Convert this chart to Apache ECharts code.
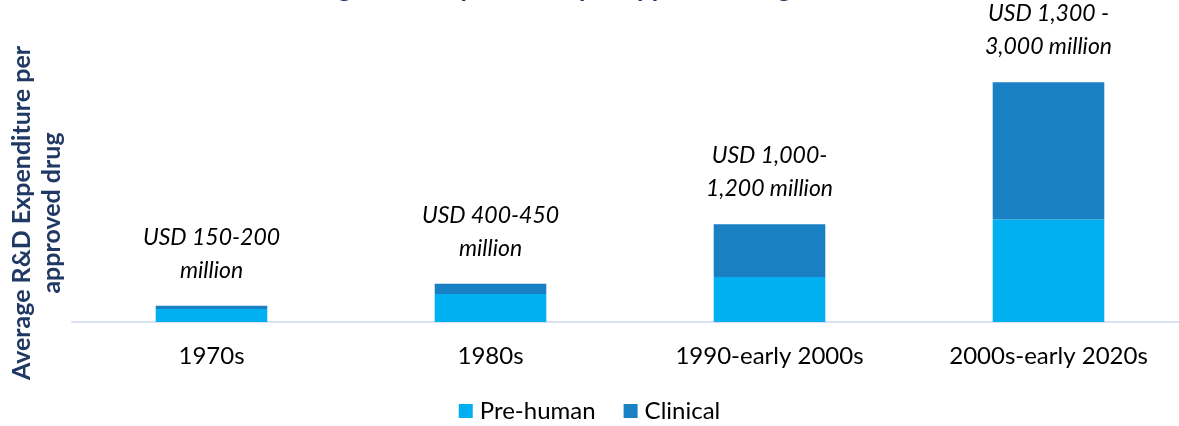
<!DOCTYPE html>
<html>
<head>
<meta charset="utf-8">
<script src="https://cdn.jsdelivr.net/npm/echarts@6/dist/echarts.min.js"></script>
<style>
  html, body { margin: 0; padding: 0; background: #fff; }
  #chart { width: 1179px; height: 426px; }
</style>
</head>
<body>
<div id="chart"></div>
<script>
// R&D spend per approved drug, USD million
const categories = ['1970s', '1980s', '1990-early 2000s', '2000s-early 2020s'];
const preHuman = [145, 310, 500, 1140];
const clinical = [35, 115, 585, 1525];
const rangeLabels = [
    'USD 150-200\nmillion',
    'USD 400-450\nmillion',
    'USD 1,000-\n1,200 million',
    'USD 1,300 -\n3,000 million'
];

const FONT = 'Lato';
let myChart = echarts.init(document.getElementById('chart'));
myChart.setOption({
    animation: false,
    title: {
        text: 'Average R&D expenditure per approved drug over time',
        left: 'center',
        top: -29,
        textStyle: { fontFamily: FONT, fontSize: 26, fontWeight: 'bold', color: '#1F3864' }
    },
    legend: {
        top: 394,
        left: 'center',
        itemWidth: 14,
        itemHeight: 14,
        itemGap: 28,
        icon: 'rect',
        textStyle: { fontFamily: FONT, fontSize: 24, color: '#000', padding: [0, 0, 0, 2] },
        data: ['Pre-human', 'Clinical']
    },
    grid: { left: 72, width: 1116, top: 25, bottom: 104, outerBoundsMode: 'none' },
    xAxis: {
        type: 'category',
        data: categories,
        axisLine: { lineStyle: { color: '#D9E1F2', width: 2 } },
        axisTick: { show: false },
        axisLabel: { margin: 22, fontFamily: FONT, fontSize: 24, color: '#000' }
    },
    yAxis: {
        type: 'value',
        min: 0,
        max: 3300,
        show: false,
        splitLine: { show: false }
    },
    graphic: [{
        type: 'text',
        x: 37,
        y: 213,
        rotation: Math.PI / 2,
        style: {
            text: 'Average R&D Expenditure per\napproved drug',
            fontFamily: FONT,
            fontSize: 25,
            fontWeight: 'bold',
            fill: '#1F3864',
            align: 'center',
            verticalAlign: 'middle',
            lineHeight: 30
        }
    }],
    series: [
        {
            name: 'Pre-human',
            type: 'bar',
            stack: 'rd',
            barWidth: '40%',
            itemStyle: { color: '#00B0F0' },
            data: preHuman
        },
        {
            name: 'Clinical',
            type: 'bar',
            stack: 'rd',
            barWidth: '40%',
            itemStyle: { color: '#1981C3' },
            label: {
                show: true,
                position: 'top',
                distance: 19,
                formatter: (p) => rangeLabels[p.dataIndex],
                fontFamily: FONT,
                fontSize: 23,
                fontStyle: 'italic',
                lineHeight: 33,
                color: '#000'
            },
            data: clinical
        }
    ]
});
</script>
</body>
</html>
